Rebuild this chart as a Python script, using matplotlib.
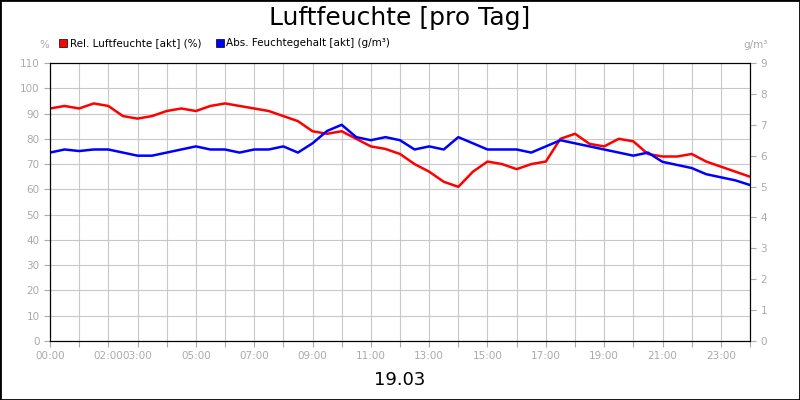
import matplotlib
matplotlib.use("Agg")
import matplotlib.pyplot as plt
import numpy as np

hours = [i*0.5 for i in range(49)]
rel = [92,93,92,94,93,89,88,89,91,92,91,93,94,93,92,91,89,87,83,82,83,80,77,76,74,70,67,63,61,67,71,70,68,70,71,80,82,78,77,80,79,74,73,73,74,71,69,67,65]
absf = [6.1,6.2,6.15,6.2,6.2,6.1,6.0,6.0,6.1,6.2,6.3,6.2,6.2,6.1,6.2,6.2,6.3,6.1,6.4,6.8,7.0,6.6,6.5,6.6,6.5,6.2,6.3,6.2,6.6,6.4,6.2,6.2,6.2,6.1,6.3,6.5,6.4,6.3,6.2,6.1,6.0,6.1,5.8,5.7,5.6,5.4,5.3,5.2,5.05]
xtick_pos = [0,2,3,5,7,9,11,13,15,17,19,21,23]
xtick_labels = ["00:00","02:00","03:00","05:00","07:00","09:00","11:00","13:00","15:00","17:00","19:00","21:00","23:00"]

fig = plt.figure(figsize=(8,4), dpi=100)
fig.patches.append(plt.Rectangle((0,0),1,1,transform=fig.transFigure,fill=False,edgecolor='black',lw=2))
ax = fig.add_axes([0.0625,0.1475,0.875,0.695])
ax.set_xlim(0,24); ax.set_ylim(0,110)
ax.set_xticks(range(25), minor=False)
ax.set_xticks(range(25))
ax.set_xticklabels(["" for _ in range(25)])
for p,l in zip(xtick_pos,xtick_labels):
    ax.text(p,-4,l,ha='center',va='top',fontsize=7.5,color='#aaaaaa')
ax.set_yticks(range(0,111,10))
ax.tick_params(axis='both',colors='#aaaaaa',labelsize=7.5,length=4)
ax.grid(True,color='#c8c8c8',lw=0.8)
for s in ax.spines.values(): s.set_color('black')
ax.plot(hours,rel,color='#ff0000',lw=1.8)
ax2 = ax.twinx()
ax2.set_ylim(0,9)
ax2.set_yticks(range(10))
ax2.tick_params(colors='#aaaaaa',labelsize=7.5,length=4)
ax2.plot(hours,absf,color='#0000ff',lw=1.8)
fig.text(0.5,0.955,"Luftfeuchte [pro Tag]",ha='center',va='center',fontsize=18)
fig.text(0.5,0.05,"19.03",ha='center',va='center',fontsize=13)
fig.text(0.055,0.88,"%",ha='center',fontsize=7.5,color='#aaaaaa')
fig.text(0.945,0.88,"g/m³",ha='center',fontsize=7.5,color='#aaaaaa')
fig.patches.append(plt.Rectangle((0.074,0.883),0.01,0.02,transform=fig.transFigure,facecolor='red',edgecolor='black',lw=0.5))
fig.text(0.087,0.893,"Rel. Luftfeuchte [akt] (%)",va='center',fontsize=7.5)
fig.patches.append(plt.Rectangle((0.27,0.883),0.01,0.02,transform=fig.transFigure,facecolor='blue',edgecolor='black',lw=0.5))
fig.text(0.283,0.893,"Abs. Feuchtegehalt [akt] (g/m³)",va='center',fontsize=7.5)
fig.savefig("out.png",dpi=100)
